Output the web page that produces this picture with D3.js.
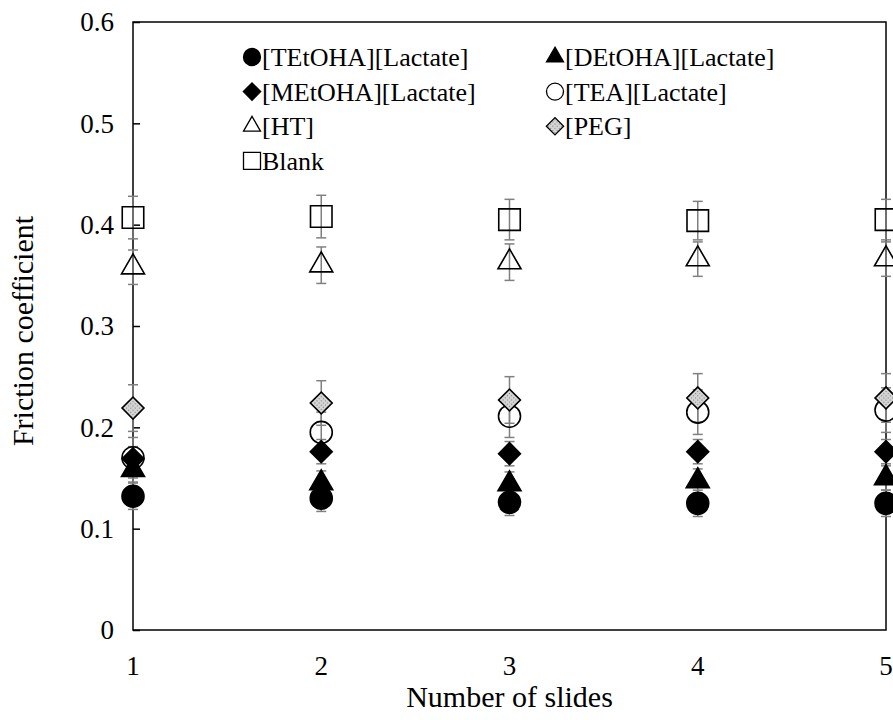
<!DOCTYPE html>
<html>
<head>
<meta charset="utf-8">
<script src="https://cdn.jsdelivr.net/npm/d3@7"></script>
<style>
  body { margin: 0; background: #fff; }
  svg text { font-family: "Liberation Serif", "Times New Roman", serif; fill: #000; }
</style>
</head>
<body>
<div id="draw_here"></div>
<script>
    // Data
    slides = [1, 2, 3, 4, 5]
    yTicks = [0, 0.1, 0.2, 0.3, 0.4, 0.5, 0.6]

    names = ["[TEtOHA][Lactate]", "[DEtOHA][Lactate]", "[MEtOHA][Lactate]",
             "[TEA][Lactate]", "[HT]", "[PEG]", "Blank"]

    tetoha = [0.132, 0.130, 0.126, 0.125, 0.125]
    detoha = [0.158, 0.145, 0.144, 0.147, 0.150]
    metoha = [0.169, 0.176, 0.174, 0.176, 0.176]
    tea    = [0.170, 0.195, 0.211, 0.215, 0.217]
    ht     = [0.358, 0.360, 0.363, 0.366, 0.366]
    peg    = [0.219, 0.224, 0.227, 0.229, 0.229]
    blank  = [0.407, 0.408, 0.405, 0.404, 0.405]

    tetoha_err = [0.013, 0.013, 0.013, 0.013, 0.013]
    detoha_err = [0.012, 0.012, 0.012, 0.012, 0.012]
    metoha_err = [0.012, 0.012, 0.012, 0.012, 0.012]
    tea_err    = [0.020, 0.020, 0.021, 0.022, 0.022]
    ht_err     = [0.017, 0.018, 0.018, 0.017, 0.017]
    peg_err    = [0.023, 0.022, 0.023, 0.024, 0.024]
    blank_err  = [0.021, 0.021, 0.020, 0.019, 0.020]

    // marker look per series
    series = [
        {name: names[0], values: tetoha, err: tetoha_err, shape: "circle",   fill: "#000"},
        {name: names[1], values: detoha, err: detoha_err, shape: "triangle", fill: "#000"},
        {name: names[2], values: metoha, err: metoha_err, shape: "diamond",  fill: "#000"},
        {name: names[3], values: tea,    err: tea_err,    shape: "circle",   fill: "none"},
        {name: names[4], values: ht,     err: ht_err,     shape: "triangle", fill: "none"},
        {name: names[5], values: peg,    err: peg_err,    shape: "diamond",  fill: "url(#dots)"},
        {name: names[6], values: blank,  err: blank_err,  shape: "square",   fill: "none"}
    ]

    canvas = ({width: 893, height: 720})
    plot = ({left: 133, right: 886, top: 22, bottom: 630})

    x = d3.scaleLinear().domain([1, 5]).range([plot.left, plot.right])
    y = d3.scaleLinear().domain([0, 0.6]).range([plot.bottom, plot.top])

    var svg = d3.select("div#draw_here").append("svg")
        .attr("width", canvas.width)
        .attr("height", canvas.height)
        .attr("viewBox", [0, 0, canvas.width, canvas.height])

    // dotted grey fill for PEG
    var pat = svg.append("defs").append("pattern")
        .attr("id", "dots")
        .attr("patternUnits", "userSpaceOnUse")
        .attr("width", 3).attr("height", 3)
    pat.append("rect").attr("width", 3).attr("height", 3).attr("fill", "#d4d4d4")
    pat.append("rect").attr("x", 1).attr("y", 1).attr("width", 1).attr("height", 1).attr("fill", "#777")

    function symbolPath(shape, s) {
        // s = nominal marker size in px
        if (shape == "circle") return d3.symbol(d3.symbolCircle, Math.PI * (s / 2) ** 2)()
        if (shape == "square") return d3.symbol(d3.symbolSquare, s * s)()
        if (shape == "diamond") return d3.symbol(d3.symbolSquare, (s * 0.72) ** 2)()
        return d3.symbol(d3.symbolTriangle, Math.sqrt(3) / 4 * s * s)()
    }

    // frame
    svg.append("rect")
        .attr("x", plot.left).attr("y", plot.top)
        .attr("width", plot.right - plot.left).attr("height", plot.bottom - plot.top)
        .attr("fill", "none").attr("stroke", "#000").attr("stroke-width", 1.5)

    // y axis, ticks pointing inward
    svg.append("g")
        .attr("transform", `translate(${plot.left},0)`)
        .call(d3.axisRight(y).tickValues(yTicks).tickSize(7).tickFormat(""))
        .call(g => g.select(".domain").remove())
        .call(g => g.selectAll("line").attr("stroke-width", 1.5))

    svg.append("g").selectAll("text")
        .data(yTicks)
        .join("text")
        .attr("x", plot.left - 19)
        .attr("y", d => y(d))
        .attr("dy", "0.35em")
        .attr("text-anchor", "end")
        .attr("font-size", 27)
        .text(d => d == 0 ? "0" : d.toFixed(1))

    svg.append("g").selectAll("text")
        .data(slides)
        .join("text")
        .attr("x", d => x(d))
        .attr("y", plot.bottom + 45)
        .attr("text-anchor", "middle")
        .attr("font-size", 27)
        .text(d => d)

    svg.append("text")
        .attr("x", (plot.left + plot.right) / 2)
        .attr("y", 707)
        .attr("text-anchor", "middle")
        .attr("font-size", 30)
        .text("Number of slides")

    svg.append("text")
        .attr("transform", `translate(33,${(plot.top + plot.bottom) / 2 + 5}) rotate(-90)`)
        .attr("text-anchor", "middle")
        .attr("font-size", 30)
        .text("Friction coefficient")

    // error bars first, markers on top
    var errG = svg.append("g").attr("stroke", "#808080").attr("stroke-width", 1.5)
    series.forEach(s => {
        s.values.forEach((v, i) => {
            var cx = x(slides[i])
            errG.append("line")
                .attr("x1", cx).attr("x2", cx)
                .attr("y1", y(v - s.err[i])).attr("y2", y(v + s.err[i]))
            ;[v - s.err[i], v + s.err[i]].forEach(e => {
                errG.append("line")
                    .attr("x1", cx - 5).attr("x2", cx + 5)
                    .attr("y1", y(e)).attr("y2", y(e))
            })
        })
    })

    series.forEach(s => {
        svg.append("g").selectAll("path")
            .data(s.values)
            .join("path")
            .attr("d", symbolPath(s.shape, s.shape == "circle" ? 22 : s.shape == "triangle" ? 23 : 21.5))
            .attr("transform", (d, i) => `translate(${x(slides[i])},${y(d)})` + (s.shape == "diamond" ? " rotate(45)" : ""))
            .attr("fill", s.fill)
            .attr("stroke", "#000")
            .attr("stroke-width", 1.6)
    })

    // legend, two columns
    var leg = svg.append("g")
    series.forEach((s, i) => {
        var lx = i % 2 == 0 ? 252 : 555
        var ly = 57 + Math.floor(i / 2) * 34.6
        leg.append("path")
            .attr("d", symbolPath(s.shape, 17))
            .attr("transform", `translate(${lx},${ly})` + (s.shape == "diamond" ? " rotate(45)" : ""))
            .attr("fill", s.fill)
            .attr("stroke", "#000")
            .attr("stroke-width", 1.3)
        leg.append("text")
            .attr("x", lx + 10)
            .attr("y", ly)
            .attr("dy", "0.35em")
            .attr("font-size", 26)
            .text(s.name)
    })
</script>
</body>
</html>
